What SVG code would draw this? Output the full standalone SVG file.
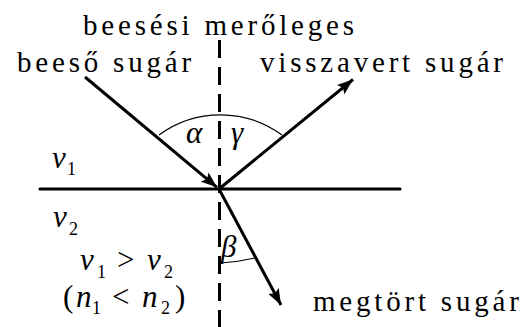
<svg xmlns="http://www.w3.org/2000/svg" width="522" height="327" viewBox="0 0 522 327" font-family="Liberation Serif, Times New Roman, DejaVu Serif, serif">
<style>
text{fill:#000}
.lbl{font-size:29px;letter-spacing:3.8px}
.it{font-size:31px;font-style:italic}
.sub{font-size:18px;font-style:normal}
.up{font-style:normal}
.ray{stroke:#000;stroke-width:3;fill:none}
.arc{stroke:#000;stroke-width:1.2;fill:none}
</style>
<defs>
<marker id="ah" markerUnits="userSpaceOnUse" markerWidth="17" markerHeight="12" refX="16" refY="6" orient="auto" viewBox="0 0 17 12">
<path d="M0,0 L16,6 L0,12 L3,6 z" fill="#000"/>
</marker>
</defs>
<g id="surface"><line x1="40" y1="189" x2="400" y2="189" stroke="#000" stroke-width="3.2" stroke-linecap="round"/></g>
<g id="normal"><line x1="219.5" y1="40" x2="219.5" y2="327" stroke="#000" stroke-width="3" stroke-dasharray="18,9"/></g>
<g id="connectors">
<line class="ray" x1="85" y1="77" x2="217" y2="187.3" marker-end="url(#ah)"/>
<line class="ray" x1="219" y1="189" x2="353" y2="79.5" marker-end="url(#ah)"/>
<line class="ray" x1="219" y1="189" x2="281" y2="305" marker-end="url(#ah)"/>
</g>
<g id="angles">
<path class="arc" d="M159,135 A104,104 0 0 1 282,135"/>
<path class="arc" d="M220,263 Q238,262 255,258"/>
<text class="it" x="186" y="143">α</text>
<text class="it" x="231" y="143">γ</text>
<text class="it" x="221" y="257">β</text>
</g>
<g id="labels">
<text class="lbl" x="83" y="35">beesési merőleges</text>
<text class="lbl" x="17" y="72">beeső sugár</text>
<text class="lbl" x="260" y="72">visszavert sugár</text>
<text class="lbl" x="313" y="311">megtört sugár</text>
</g>
<g id="media">
<text class="it" x="52" y="168">v<tspan class="sub" x="67" y="175">1</tspan></text>
<text class="it" x="53" y="227">v<tspan class="sub" x="69" y="235">2</tspan></text>
<text class="it" x="80" y="270">v<tspan class="sub" x="97" y="278">1</tspan><tspan class="up" x="117" y="270">&gt;</tspan><tspan x="147" y="270">v</tspan><tspan class="sub" x="164" y="278">2</tspan></text>
<text class="it" x="63" y="307"><tspan class="up">(</tspan><tspan x="76">n</tspan><tspan class="sub" x="92" y="314">1</tspan><tspan class="up" x="112" y="307">&lt;</tspan><tspan x="142" y="307">n</tspan><tspan class="sub" x="161" y="314">2</tspan><tspan class="up" x="175" y="307">)</tspan></text>
</g>
</svg>
